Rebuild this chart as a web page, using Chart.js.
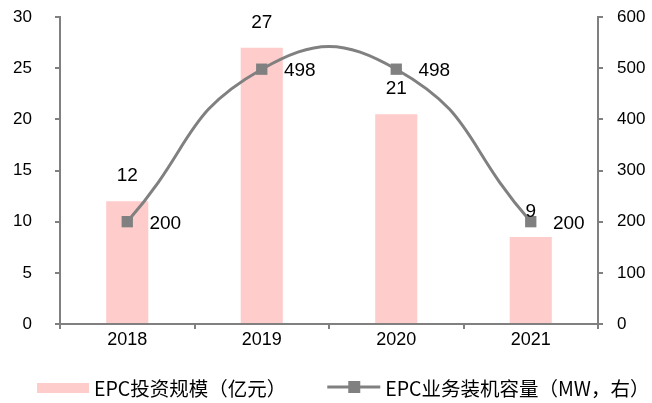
<!DOCTYPE html>
<html>
<head>
<meta charset="utf-8">
<script src="https://cdn.jsdelivr.net/npm/chart.js@4"></script>
<style>
  html, body { margin: 0; padding: 0; background: #fff; }
  #wrap { width: 652px; height: 403px; }
</style>
</head>
<body>
<div id="wrap"><canvas id="c"></canvas></div>
<script>
const years = ['2018', '2019', '2020', '2021'];
const investment = [12, 27, 20.5, 8.5];      // 亿元, left axis
const capacity = [200, 498, 498, 200];       // MW, right axis
const leftTicks = [0, 5, 10, 15, 20, 25, 30];
const rightTicks = [0, 100, 200, 300, 400, 500, 600];

const GRAY = '#808080';
const PINK = '#FFCCCC';
const NUM_FONT = '"Liberation Sans", Arial, sans-serif';
const CJK_FONT = '"Noto Sans CJK SC", sans-serif';

// value labels next to bars and points
const valueLabels = {
    id: 'valueLabels',
    afterDatasetsDraw(chart) {
        const ctx = chart.ctx;
        ctx.save();
        ctx.fillStyle = '#000';
        ctx.font = '19px ' + NUM_FONT;
        ctx.textAlign = 'center';
        ctx.textBaseline = 'middle';
        chart.getDatasetMeta(0).data.forEach((el, i) => {
            ctx.fillText(String(Math.round(investment[i])), el.x, el.y - 25);
        });
        chart.getDatasetMeta(1).data.forEach((el, i) => {
            ctx.fillText(String(capacity[i]), el.x + 38, el.y + 2);
        });
        ctx.restore();
    }
};

// legend along the bottom, drawn the way the source chart lays it out
const bottomLegend = {
    id: 'bottomLegend',
    afterDraw(chart) {
        const ctx = chart.ctx;
        const [bars, line] = chart.data.datasets;
        const y = 388;
        ctx.save();
        ctx.font = '19.5px ' + CJK_FONT;
        ctx.textBaseline = 'middle';
        ctx.fillStyle = bars.backgroundColor;
        let x = 37;
        ctx.fillRect(x, y - 5, 52, 10);
        x += 57;
        ctx.fillStyle = '#000';
        ctx.fillText(bars.label, x, y + 1);
        x += ctx.measureText(bars.label).width + 41;
        ctx.strokeStyle = line.borderColor;
        ctx.lineWidth = 3;
        ctx.beginPath(); ctx.moveTo(x, y - 1); ctx.lineTo(x + 53, y - 1); ctx.stroke();
        ctx.fillStyle = line.borderColor;
        ctx.fillRect(x + 21, y - 7, 12, 12);
        x += 58;
        ctx.fillStyle = '#000';
        ctx.fillText(line.label, x, y + 1);
        ctx.restore();
    }
};

// keep the axis at a fixed width and stop tick padding from pushing the plot down
function fixedSide(width) {
    return s => { s.width = width; s.paddingTop = 0; s.paddingBottom = 0; };
}

new Chart(document.getElementById('c').getContext('2d'), {
    type: 'bar',
    data: {
        labels: years,
        datasets: [
            { label: 'EPC投资规模（亿元）', data: investment, backgroundColor: PINK, yAxisID: 'y', order: 1,
              barPercentage: 0.313, categoryPercentage: 1 },
            { label: 'EPC业务装机容量（MW，右）', type: 'line', data: capacity, yAxisID: 'y1', order: 0,
              borderColor: GRAY, borderWidth: 3, tension: 0.5, fill: false,
              pointStyle: 'rect', pointRadius: 8, pointBackgroundColor: GRAY, pointBorderWidth: 0 }
        ]
    },
    options: {
        responsive: true, maintainAspectRatio: false, animation: false,
        layout: { padding: { left: 0, right: 0, top: 17, bottom: 0 } },
        plugins: {
            tooltip: { enabled: false },
            legend: { display: false }
        },
        scales: {
            x: {
                offset: true,
                afterFit(s) { s.height = 79; },
                grid: { offset: true, drawOnChartArea: false, drawTicks: true, tickLength: 5, color: GRAY, lineWidth: 2 },
                border: { color: GRAY, width: 2 },
                ticks: { color: '#000', font: { family: NUM_FONT, size: 18 }, padding: 0 }
            },
            y: {
                position: 'left', min: 0, max: 30,
                afterBuildTicks(s) { s.ticks = leftTicks.map(v => ({ value: v })); },
                afterFit: fixedSide(60),
                grid: { drawOnChartArea: false, drawTicks: true, tickLength: 5, color: GRAY, lineWidth: 2 },
                border: { color: GRAY, width: 2 },
                ticks: { color: '#000', font: { family: NUM_FONT, size: 17 }, padding: 23 }
            },
            y1: {
                position: 'right', min: 0, max: 600,
                afterBuildTicks(s) { s.ticks = rightTicks.map(v => ({ value: v })); },
                afterFit: fixedSide(54),
                grid: { drawOnChartArea: false, drawTicks: true, tickLength: 5, color: GRAY, lineWidth: 2 },
                border: { color: GRAY, width: 2 },
                ticks: { color: '#000', font: { family: NUM_FONT, size: 17 }, padding: 14 }
            }
        }
    },
    plugins: [valueLabels, bottomLegend]
});
</script>
</body>
</html>
